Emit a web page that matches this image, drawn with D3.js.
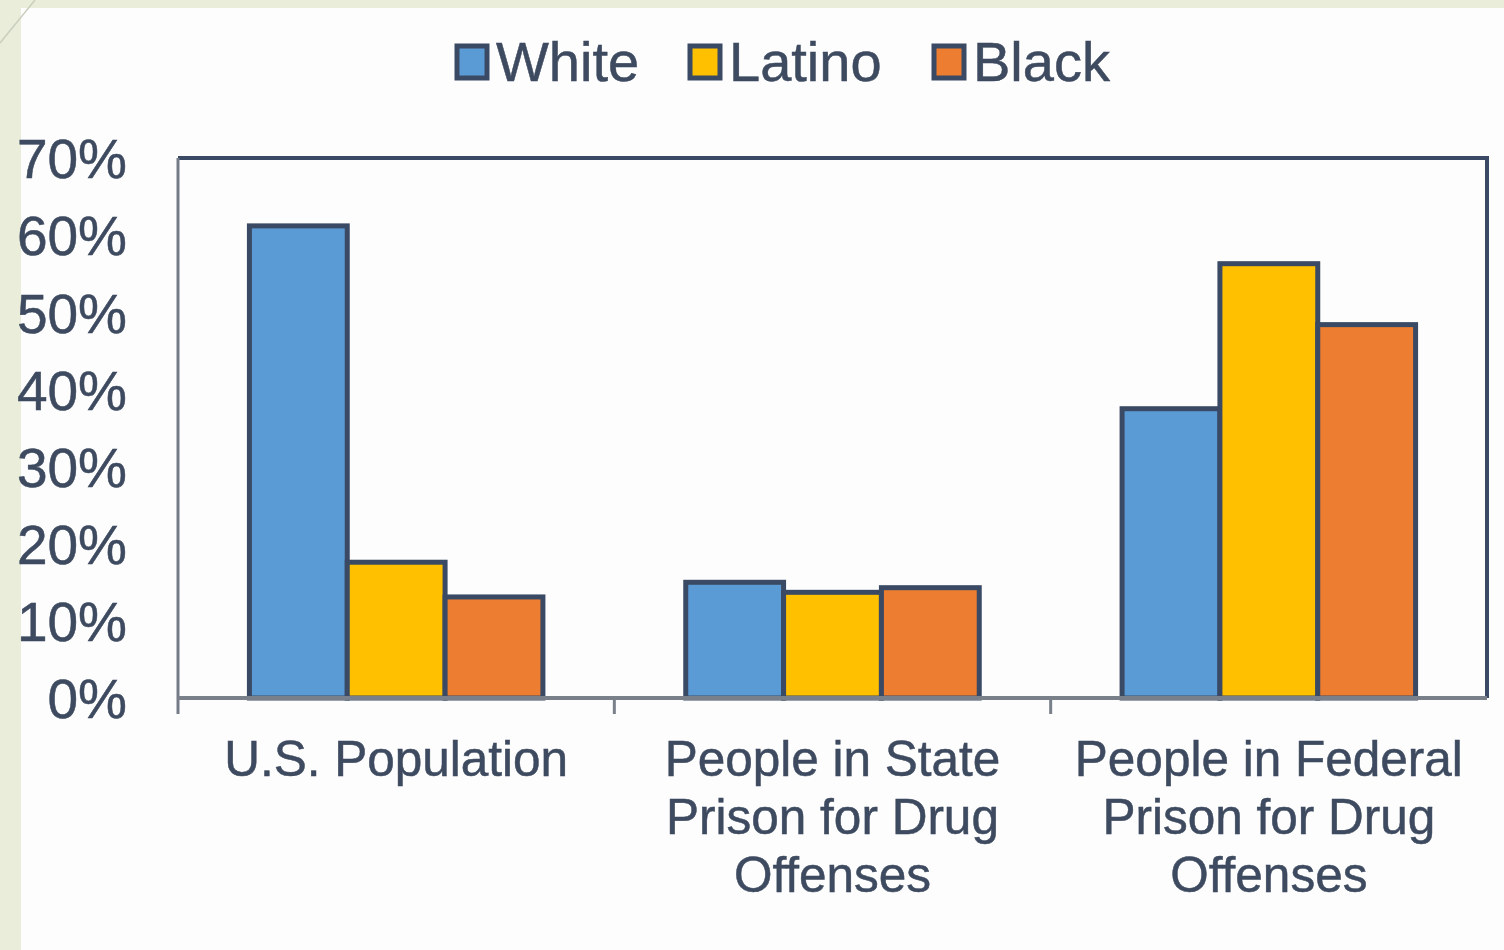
<!DOCTYPE html>
<html>
<head>
<meta charset="utf-8">
<script src="https://cdn.jsdelivr.net/npm/d3@7"></script>
<style>
  html, body { margin: 0; padding: 0; background: #ffffff; }
  svg { display: block; }
  text { font-family: "Liberation Sans", Arial, sans-serif; fill: #3d4a5f; stroke: #3d4a5f; stroke-width: 0.5px; }
</style>
</head>
<body>
<svg id="chart" width="1504" height="950"></svg>
<script>
// Share of each group by race
const categories = [
  ["U.S. Population"],
  ["People in State", "Prison for Drug", "Offenses"],
  ["People in Federal", "Prison for Drug", "Offenses"]
];
const seriesNames = ["White", "Latino", "Black"];
const white  = [0.612, 0.150, 0.375];
const latino = [0.176, 0.137, 0.563];
const black  = [0.131, 0.143, 0.484];
const yTicks = [0, 0.1, 0.2, 0.3, 0.4, 0.5, 0.6, 0.7];

const seriesValues = [white, latino, black];
const colors = ["#5b9bd5", "#ffc000", "#ed7d31"];
const outline = "#3b4a64";

const svg = d3.select("#chart");

// slide background: green strip on the left and top, thin diagonal corner line
svg.append("rect").attr("x", 0).attr("y", 0).attr("width", 1504).attr("height", 950).attr("fill", "#e9edda");
svg.append("rect").attr("x", 21).attr("y", 8).attr("width", 1483).attr("height", 942).attr("fill", "#fdfdfd");
svg.append("line").attr("x1", 0).attr("y1", 43).attr("x2", 35).attr("y2", 0)
  .attr("stroke", "#c9cfbd").attr("stroke-width", 1.5);

const plot = { left: 178, right: 1487, top: 158, bottom: 698 };

const x0 = d3.scaleBand()
  .domain(d3.range(categories.length))
  .range([plot.left, plot.right])
  .padding(0);

const x1 = d3.scaleBand()
  .domain(d3.range(seriesNames.length))
  .range([0, x0.bandwidth()])
  .paddingInner(0)
  .paddingOuter(0.73);

const y = d3.scaleLinear().domain([0, 0.7]).range([plot.bottom, plot.top]);

// plot frame: dark top and right edges
svg.append("path")
  .attr("d", `M${plot.left},${plot.top}H${plot.right}V${plot.bottom}`)
  .attr("fill", "none").attr("stroke", outline).attr("stroke-width", 4);

// bars
const groups = svg.append("g").selectAll("g")
  .data(categories.map((c, i) => i))
  .join("g")
  .attr("transform", i => `translate(${x0(i)},0)`);

groups.selectAll("rect")
  .data(i => seriesValues.map((vals, s) => ({ s, v: vals[i] })))
  .join("rect")
  .attr("x", d => x1(d.s))
  .attr("y", d => y(d.v))
  .attr("width", x1.bandwidth())
  .attr("height", d => y(0) - y(d.v))
  .attr("fill", d => colors[d.s])
  .attr("stroke", outline)
  .attr("stroke-width", 5);

// y axis labels
const yAxis = svg.append("g")
  .attr("transform", `translate(${plot.left},0)`)
  .call(d3.axisLeft(y).tickValues(yTicks).tickFormat(d3.format(".0%")).tickSize(0).tickPadding(51));
yAxis.select(".domain").remove();
yAxis.selectAll("text")
  .style("font-family", "'Liberation Sans', Arial, sans-serif")
  .style("font-size", "55px")
  .attr("fill", "#3d4a5f")
  .attr("dy", "0.36em");

// left axis line
svg.append("line")
  .attr("x1", plot.left).attr("x2", plot.left)
  .attr("y1", plot.top).attr("y2", plot.bottom + 16)
  .attr("stroke", "#747b86").attr("stroke-width", 3);

// bottom axis line and category ticks
svg.append("line")
  .attr("x1", plot.left).attr("x2", plot.right)
  .attr("y1", plot.bottom).attr("y2", plot.bottom)
  .attr("stroke", "#7a808a").attr("stroke-width", 4);
svg.append("g").selectAll("line")
  .data(d3.range(1, categories.length))
  .join("line")
  .attr("x1", i => x0(i)).attr("x2", i => x0(i))
  .attr("y1", plot.bottom).attr("y2", plot.bottom + 16)
  .attr("stroke", "#7a808a").attr("stroke-width", 3);

// category labels
const catLabels = svg.append("g").selectAll("text")
  .data(categories)
  .join("text")
  .attr("x", (c, i) => x0(i) + x0.bandwidth() / 2)
  .attr("y", 776)
  .attr("text-anchor", "middle")
  .style("font-size", "49.5px");
catLabels.selectAll("tspan")
  .data(c => c)
  .join("tspan")
  .attr("x", function () { return this.parentNode.getAttribute("x"); })
  .attr("dy", (d, j) => j === 0 ? 0 : 58)
  .text(d => d);

// legend
const legendX = [455, 688, 932];
const legend = svg.append("g").selectAll("g")
  .data(seriesNames)
  .join("g")
  .attr("transform", (d, i) => `translate(${legendX[i]},44)`);
legend.append("rect")
  .attr("x", 2).attr("y", 2).attr("width", 30).attr("height", 32)
  .attr("fill", (d, i) => colors[i])
  .attr("stroke", outline).attr("stroke-width", 5);
legend.append("text")
  .attr("x", 41).attr("y", 37)
  .style("font-size", "56px")
  .text(d => d);
</script>
</body>
</html>
